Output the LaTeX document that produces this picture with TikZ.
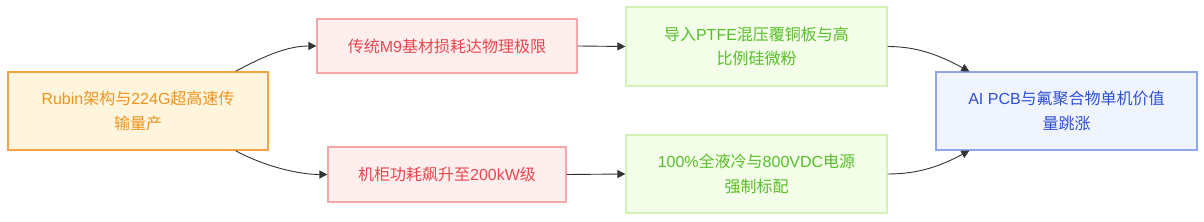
\documentclass[tikz,border=0pt]{standalone}
\usepackage{fontspec}
\setmainfont{Noto Sans CJK SC}
\newfontfamily\lat{Liberation Sans}
\usetikzlibrary{arrows.meta}
\definecolor{orFill}{HTML}{FFF5DC}
\definecolor{orLine}{HTML}{F0A540}
\definecolor{orText}{HTML}{EE9420}
\definecolor{rdFill}{HTML}{FFEEEE}
\definecolor{rdLine}{HTML}{F4A8AA}
\definecolor{rdText}{HTML}{E8484E}
\definecolor{grFill}{HTML}{F3FEE8}
\definecolor{grLine}{HTML}{D2F2B8}
\definecolor{grText}{HTML}{58BE2A}
\definecolor{blFill}{HTML}{F0F4FF}
\definecolor{blLine}{HTML}{8EA6EC}
\definecolor{blText}{HTML}{2F50D6}
\definecolor{edge}{HTML}{333333}
\tikzset{
  box/.style={draw, rectangle, inner sep=0pt, align=center, line width=1.3pt,
    font=\fontsize{16}{24.5}\selectfont},
  orbox/.style={box, fill=orFill, draw=orLine, text=orText, line width=1.8pt},
  rdbox/.style={box, fill=rdFill, draw=rdLine, text=rdText},
  grbox/.style={box, fill=grFill, draw=grLine, text=grText},
  blbox/.style={box, fill=blFill, draw=blLine, text=blText},
  link/.style={draw=edge, line width=0.9pt, -{Triangle[length=8pt,width=8pt]}}
}
\begin{document}
\begin{tikzpicture}[x=1pt,y=-1pt]
\useasboundingbox (0,0) rectangle (1204,222);
\node[orbox, minimum width=260pt, minimum height=78pt] (A) at (138,111)
  {{\lat Rubin}架构与{\lat 224G}超高速传\\输量产};
\node[rdbox, minimum width=260pt, minimum height=54pt] (B) at (447,46)
  {传统{\lat M9}基材损耗达物理极限};
\node[grbox, minimum width=261pt, minimum height=79pt] (C) at (756.5,46.5)
  {导入{\lat PTFE}混压覆铜板与高\\比例硅微粉};
\node[blbox, minimum width=261pt, minimum height=78pt] (D) at (1066.5,111)
  {{\lat AI PCB}与氟聚合物单机价值\\量跳涨};
\node[rdbox, minimum width=238pt, minimum height=55pt] (E) at (447,174.5)
  {机柜功耗飙升至{\lat 200kW}级};
\node[grbox, minimum width=261pt, minimum height=78pt] (F) at (756.5,174)
  {{\lat 100\%}全液冷与{\lat 800VDC}电源\\强制标配};

\draw[link] ([xshift=-33pt]A.north east) .. controls +(30,-16) and +(-28,0) .. (B.west);
\draw[link] ([xshift=-33pt]A.south east) .. controls +(30,16) and +(-28,0) .. (E.west);
\draw[link] (B.east) -- (C.west);
\draw[link] (E.east) -- (F.west);
\draw[link] (C.east) .. controls +(30,0) and +(-30,-16) .. ([xshift=34pt]D.north west);
\draw[link] (F.east) .. controls +(30,0) and +(-30,16) .. ([xshift=34pt]D.south west);
\end{tikzpicture}
\end{document}
